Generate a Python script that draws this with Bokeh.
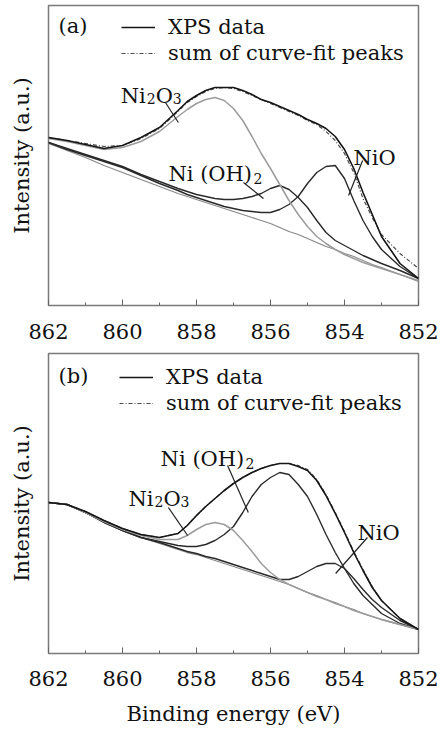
from bokeh.plotting import figure
from bokeh.models import Range1d, FixedTicker, Label, Legend, LegendItem
from bokeh.layouts import column
from bokeh.embed import file_html
from bokeh.resources import INLINE

# Binding energy grid (eV)
energy = [862, 861.5, 861, 860.5, 860, 859.5, 859, 858.5, 858.25, 858, 857.75, 857.5,
          857.25, 857, 856.75, 856.5, 856.25, 856, 855.75, 855.5, 855.25, 855, 854.75,
          854.5, 854.25, 854, 853.75, 853.5, 853.25, 853, 852.5, 852]

# Panel (a) intensities (a.u.)
a_data = [168, 165, 161, 157, 160, 168, 178, 195, 204, 210, 215, 218, 218, 218, 215, 211,
          206, 203, 199, 195, 191, 186, 182, 177, 169, 156, 137, 113, 91, 69, 42, 27]
a_sum = [168, 165, 162, 159, 160, 167, 177, 194, 203, 209, 214, 217, 218, 217, 214, 210,
         206, 202, 198, 194, 190, 185, 181, 174, 165, 152, 133, 107, 88, 71, 52, 37]
a_ni2o3 = [167, 164, 160, 156, 158, 164, 174, 189, 196, 202, 206, 208, 205, 197, 185, 169,
           152, 137, 121, 105, 91, 79, 69, 62, 56, 51, 47, 43, 40, 37, 31, 25]
a_nioh2 = [163, 157, 151, 145, 139, 131, 124, 117, 114, 111, 109, 107, 106, 106, 107, 109,
           112, 117, 120, 116, 108, 98, 85, 73, 65, 60, 55, 50, 46, 42, 35, 27]
a_nio = [163, 156, 150, 144, 138, 130, 122, 115, 111, 108, 105, 102, 99, 97, 95, 94,
         93, 93, 96, 101, 109, 122, 133, 139, 140, 127, 105, 85, 69, 56, 39, 27]
a_base = [162, 155, 148, 140, 133, 126, 119, 112, 109, 106, 103, 100, 97, 94, 91, 88,
          85, 82, 78, 74, 71, 67, 63, 59, 56, 52, 49, 45, 41, 38, 31, 24]

# Panel (b) intensities (a.u.)
b_data = [151, 149, 142, 133, 125, 119, 116, 120, 128, 138, 147, 155, 163, 170, 176, 181,
          185, 188, 190, 190, 187, 183, 173, 158, 140, 121, 101, 83, 66, 53, 35, 24]
b_sum = [151, 149, 142, 133, 125, 119, 116, 120, 128, 138, 147, 155, 163, 170, 176, 181,
         185, 188, 190, 190, 188, 184, 174, 159, 141, 122, 102, 84, 67, 53, 35, 24]
b_ni2o3 = [151, 149, 141, 132, 124, 118, 114, 114, 118, 124, 129, 131, 129, 123, 113, 102,
           90, 81, 74, 69, 65, 61, 57, 54, 50, 47, 43, 40, 37, 34, 29, 24]
b_nioh2 = [151, 149, 141, 132, 123, 116, 112, 108, 107, 107, 109, 113, 119, 127, 141, 157,
           169, 176, 181, 179, 169, 157, 139, 119, 101, 85, 70, 58, 49, 40, 30, 24]
b_nio = [151, 149, 141, 131, 123, 116, 111, 105, 102, 100, 97, 95, 92, 89, 86, 83,
         80, 77, 74, 74, 77, 82, 87, 90, 90, 85, 75, 64, 54, 46, 33, 24]
b_base = [151, 149, 141, 131, 123, 116, 110, 104, 101, 99, 96, 93, 90, 87, 84, 81,
          78, 75, 72, 69, 65, 61, 58, 54, 51, 47, 44, 40, 37, 34, 29, 24]

x_ticks = [862, 860, 858, 856, 854, 852]
x_minor = [861, 859, 857, 855, 853]
legend_labels = ["XPS data", "sum of curve-fit peaks"]
x_title = "Binding energy (eV)"
y_title = "Intensity (a.u.)"

# Annotation text anchors (energy, intensity) and pointer segments
a_labels = {"panel": (861.73, 280), "ni2o3": (860.05, 210), "nioh2": (858.76, 132), "nio": (853.76, 148)}
a_ptr_x0 = [858.84, 856.73, 853.51]
a_ptr_y0 = [203, 123, 145]
a_ptr_x1 = [858.49, 856.19, 853.89]
a_ptr_y1 = [183, 107, 110]

b_labels = {"panel": (861.73, 278), "ni2o3": (859.84, 155), "nioh2": (858.97, 195), "nio": (853.65, 121)}
b_ptr_x0 = [858.76, 857.16, 853.38]
b_ptr_y0 = [146, 188, 116]
b_ptr_x1 = [858.24, 856.60, 854.24]
b_ptr_y1 = [118, 141, 80]

FONT = "DejaVu Serif"
TXT = "#111111"
FS = "21px"


def txt(p, x, y, text, size, dx=0, baseline="alphabetic", align="left"):
    p.add_layout(Label(x=x, y=y, text=text, text_font=FONT, text_font_size=f"{size}px",
                       text_color=TXT, x_offset=dx, text_baseline=baseline, text_align=align))


def make_panel(height, top, bottom, tag, data, summ, ni2o3, nioh2, nio, base,
               labels, px0, py0, px1, py1, tick_standoff, leg_loc, with_xtitle):
    p = figure(width=440, height=height, output_backend="svg", toolbar_location=None,
               x_range=Range1d(862, 852), y_range=Range1d(0, 300),
               min_border_left=48, min_border_right=22, min_border_top=top,
               min_border_bottom=bottom, background_fill_color="white",
               border_fill_color="white")
    p.grid.visible = False
    p.outline_line_color = "#7a7a7a"
    p.outline_line_width = 1.5

    p.line(energy, base, line_color="#8a8a8a", line_width=1.3)
    p.line(energy, nio, line_color="#2a2a2a", line_width=1.4)
    p.line(energy, nioh2, line_color="#2a2a2a", line_width=1.4)
    p.line(energy, ni2o3, line_color="#9c9c9c", line_width=1.5)
    r_sum = p.line(energy, summ, line_color="#4a4a4a", line_width=1.2, line_dash="4 2 1 2")
    r_data = p.line(energy, data, line_color="#151515", line_width=1.6)

    p.segment(x0=px0, y0=py0, x1=px1, y1=py1, line_color="#222222", line_width=1.2)

    leg = Legend(items=[LegendItem(label=legend_labels[0], renderers=[r_data]),
                        LegendItem(label=legend_labels[1], renderers=[r_sum])],
                 location=leg_loc, padding=0, margin=0, spacing=2,
                 glyph_width=34, glyph_height=20, label_height=20, label_standoff=13,
                 label_text_font=FONT, label_text_font_size=FS, label_text_color=TXT,
                 border_line_color=None, background_fill_alpha=0)
    p.add_layout(leg)

    xa = p.xaxis[0]
    xa.ticker = FixedTicker(ticks=x_ticks, minor_ticks=x_minor)
    xa.major_tick_in = 6
    xa.major_tick_out = 0
    xa.minor_tick_in = 3
    xa.minor_tick_out = 0
    xa.axis_line_color = None
    xa.major_tick_line_color = "#666666"
    xa.minor_tick_line_color = "#666666"
    xa.major_label_text_font = FONT
    xa.major_label_text_font_size = FS
    xa.major_label_text_color = TXT
    xa.major_label_standoff = tick_standoff
    if with_xtitle:
        xa.axis_label = x_title
        xa.axis_label_text_font = FONT
        xa.axis_label_text_font_size = FS
        xa.axis_label_text_font_style = "normal"
        xa.axis_label_text_color = TXT
        xa.axis_label_standoff = 13

    ya = p.yaxis[0]
    ya.ticker = FixedTicker(ticks=[])
    ya.axis_label = y_title
    ya.axis_label_text_font = FONT
    ya.axis_label_text_font_size = FS
    ya.axis_label_text_font_style = "normal"
    ya.axis_label_text_color = TXT
    ya.axis_label_standoff = 15
    ya.major_tick_line_color = None
    ya.minor_tick_line_color = None
    ya.axis_line_color = None

    # labels
    x, y = labels["panel"]
    txt(p, x, y, tag, 21, baseline="middle")
    x, y = labels["ni2o3"]
    txt(p, x, y, "Ni", 21)
    txt(p, x, y - 3, "2", 14, dx=26)
    txt(p, x, y, "O", 21, dx=35)
    txt(p, x, y - 3, "3", 14, dx=52)
    x, y = labels["nioh2"]
    txt(p, x, y, "Ni (OH)", 21)
    txt(p, x, y - 5, "2", 14, dx=85)
    x, y = labels["nio"]
    txt(p, x, y, "NiO", 21)
    return p


pa = make_panel(350, 5, 45, "(a)", a_data, a_sum, a_ni2o3, a_nioh2, a_nio, a_base,
                a_labels, a_ptr_x0, a_ptr_y0, a_ptr_x1, a_ptr_y1, 18, (73, 240), False)
pb = make_panel(379, 3, 76, "(b)", b_data, b_sum, b_ni2o3, b_nioh2, b_nio, b_base,
                b_labels, b_ptr_x0, b_ptr_y0, b_ptr_x1, b_ptr_y1, 17, (71, 238), True)

layout = column(pa, pb, spacing=0)
open("out.html", "w").write(file_html(layout, INLINE))
